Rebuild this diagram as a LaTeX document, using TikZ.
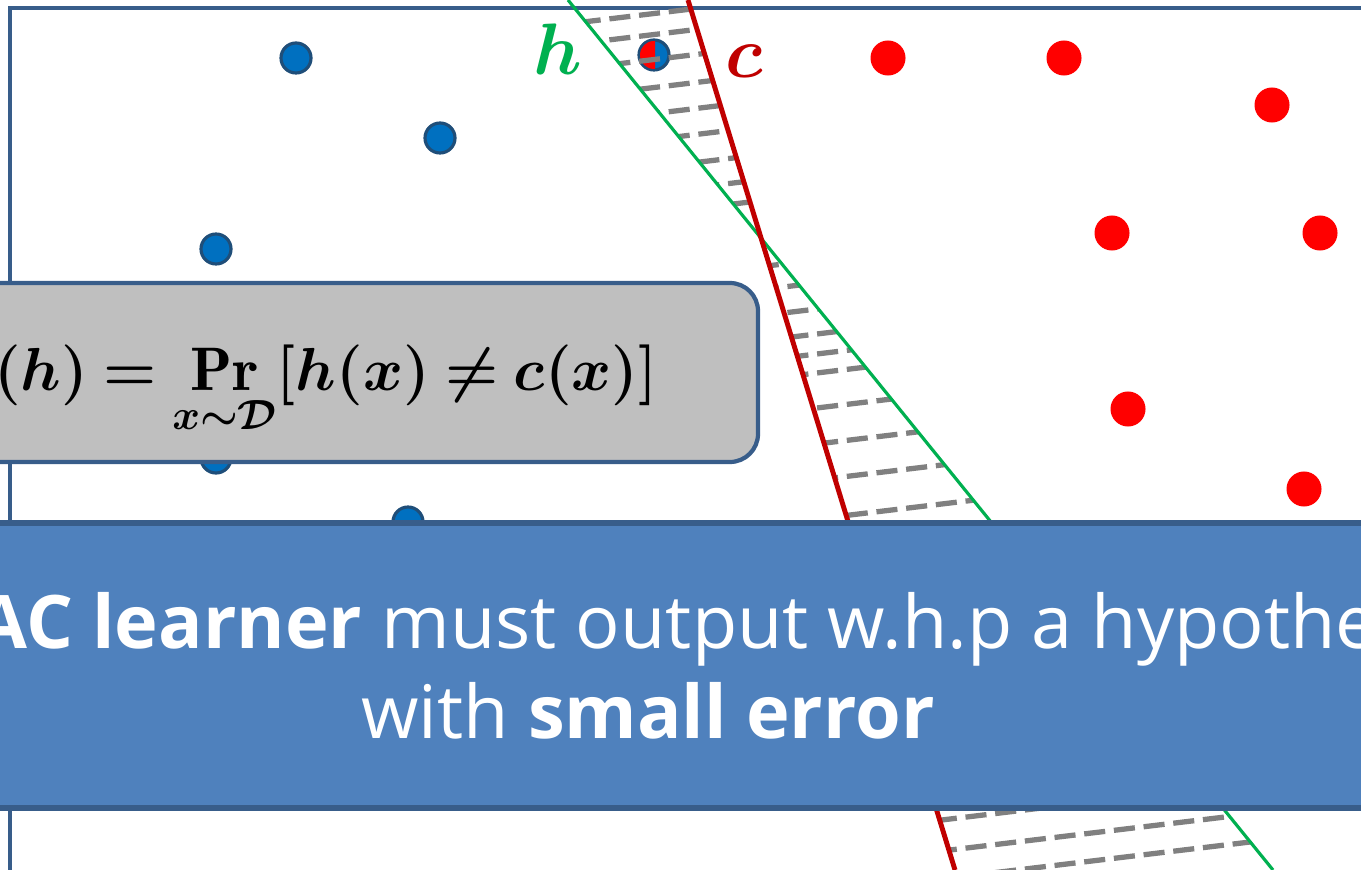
\documentclass[tikz,border=0pt]{standalone}
\usepackage{amsmath,amssymb}
\usepackage{fontspec}
\newfontfamily\slidefont{Open Sans}
\usetikzlibrary{positioning}
\definecolor{frameblue}{HTML}{385D8A}
\definecolor{bannerblue}{HTML}{4F81BD}
\definecolor{dotblue}{HTML}{0070C0}
\definecolor{dotrim}{HTML}{1F4E79}
\definecolor{hgreen}{HTML}{00B050}
\definecolor{cred}{HTML}{C00000}
\definecolor{boxgrey}{HTML}{BFBFBF}
\tikzstyle{bluept} = [circle, draw=dotrim, line width=0.9pt, fill=dotblue, minimum size=0.30cm, inner sep=0pt]
\tikzstyle{redpt} = [circle, fill=red, minimum size=0.35cm, inner sep=0pt]
\tikzstyle{hatch} = [line width=1.5pt, gray, dash pattern=on 6pt off 2.5pt]
\tikzstyle{bannertext} = [text=white, inner sep=0pt, font=\slidefont\fontsize{21}{25}\selectfont]

\begin{document}
\begin{tikzpicture}[x=0.01cm, y=-0.01cm]
    \useasboundingbox (0,0) rectangle (1361,870);
    \clip (0,0) rectangle (1361,870);
    \fill[white] (0,0) rectangle (1361,870);
    \draw[frameblue, line width=1.2pt] (10,950) -- (10,8) -- (1400,8);
    \foreach \px/\py [count=\i] in {296/58,440/138,216/249,216/458,408/522}
    \node[bluept] (b\i) at (\px,\py) {};
    \foreach \px/\py [count=\i] in {888/58,1064/58,1272/105,1112/233,1320/233,1128/409,1304/489}
    \node[redpt] (r\i) at (\px,\py) {};
    \node[bluept] (m) at (654,55) {};
    \begin{scope}
    \clip (630,30) rectangle (655,80);
    \fill[red] (m.center) circle[radius=14];
    \end{scope}
    \coordinate (hTop) at (568,0);
    \coordinate (hBot) at (1273,870);
    \coordinate (cTop) at (688,0);
    \coordinate (cBot) at (955,870);
    \begin{scope}
    \clip (hTop) -- (cTop) -- (cBot) -- (hBot) -- cycle;
    \foreach \yy in {8,29,54,82,108,134,162,187,208,274,297,323,348,368,387,422,458,494,533,849,880,908}
    \draw[hatch] (550,{\yy+18}) -- (1300,{\yy-72});
    \end{scope}
    \draw[hgreen, line width=0.9pt] (hTop) -- (hBot);
    \draw[cred, line width=1.4pt] (cTop) -- (cBot);
    \node[anchor=base, text=hgreen, font=\fontsize{20}{24}\selectfont\boldmath] (hlab) at (558,75) {$h$};
    \node[anchor=base, text=cred, font=\fontsize{20}{24}\selectfont\boldmath] (clab) at (744,78) {$c$};
    \draw[frameblue, fill=boxgrey, line width=1.2pt, rounded corners=8pt] (-40,283) rectangle (758,462);
    \node[anchor=base east, inner sep=0pt, font=\fontsize{17.5}{21}\selectfont\boldmath] (risk) at (658,390)
    {\thickmuskip=4mu $\displaystyle L_{\mathcal D}(h) = \Pr_{x\sim\mathcal D}[h(x)\neq c(x)]$};
    \draw[frameblue, fill=bannerblue, line width=1.5pt] (-20,523) rectangle (1400,808);
    \node[bannertext, anchor=base] (line1) at (700,648) {\textbf{PAC learner} must output w.h.p a hypothesis};
    \node[bannertext, anchor=base] (line2) at (648,738) {with \textbf{small error}};
\end{tikzpicture}
\end{document}
